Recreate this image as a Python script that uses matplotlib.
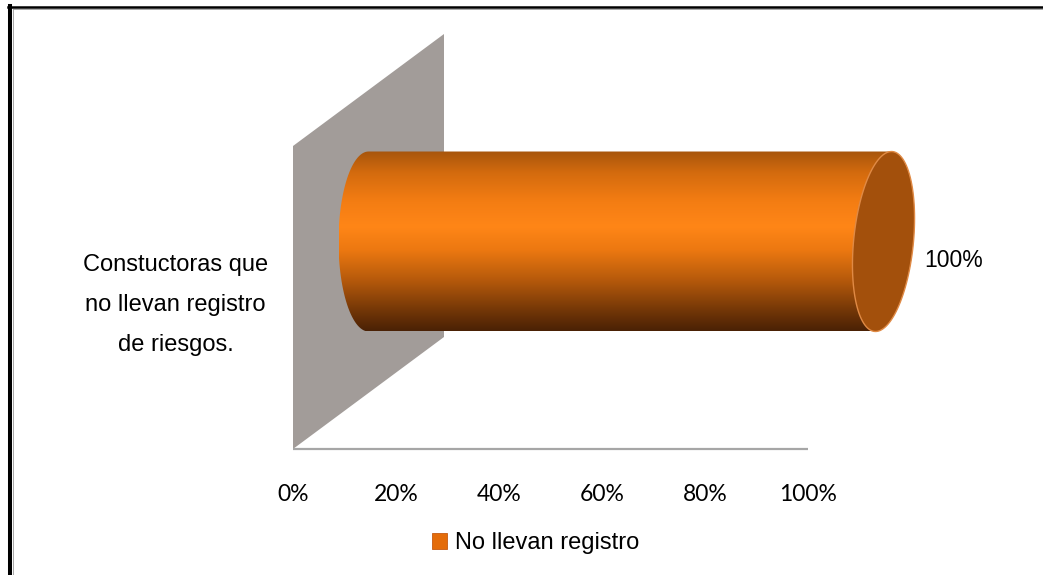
import numpy as np
import matplotlib
matplotlib.use('Agg')
import matplotlib.pyplot as plt
import matplotlib.transforms as mtransforms
from matplotlib.colors import LinearSegmentedColormap
from matplotlib.patches import Polygon, Patch
from matplotlib.lines import Line2D

# data
categories = ['Constuctoras que\nno llevan registro\nde riesgos.']
values = [1.0]
series_name = 'No llevan registro'
x_ticks = [0, 0.2, 0.4, 0.6, 0.8, 1.0]
x_tick_labels = ['0%', '20%', '40%', '60%', '80%', '100%']
value_labels = ['100%']

plt.rcParams['font.family'] = ['Liberation Sans', 'DejaVu Sans']

W, H = 1043, 575
fig = plt.figure(figsize=(W / 100, H / 100), dpi=100)
fig.patch.set_facecolor('white')

# front plane of the 3D box, in pixels (0..100% spans unit_px)
unit_px = 515
x_max = 1.3  # extra room on the right for the projected bar and label
ax_l, ax_t, ax_h = 293, 146, 303
ax_w = unit_px * x_max
ax = fig.add_axes([ax_l / W, 1 - (ax_t + ax_h) / H, ax_w / W, ax_h / H])
ax.patch.set_alpha(0)
for s in ax.spines.values():
    s.set_visible(False)

# depth of the box (px) in data units
dx = 151 / unit_px
dy = 112 / ax_h

# back wall
wall = Polygon([(0, -0.5), (0, 0.5), (dx, 0.5 + dy), (dx, -0.5 + dy)],
               closed=True, facecolor='#a29c99', edgecolor='none',
               clip_on=False, zorder=1)
ax.add_patch(wall)
# floor edge
ax.plot([0, 1], [-0.5, -0.5], color='#a6a6a6', lw=1.6, clip_on=False,
        zorder=1, solid_capstyle='butt')

# cylinder shading (bottom -> top)
cyl_cmap = LinearSegmentedColormap.from_list('cyl', [
    (0.0, '#4a2105'), (0.1, '#6e3407'), (0.28, '#b5590b'),
    (0.45, '#ec7811'), (0.58, '#ff8617'), (0.72, '#f47d13'),
    (0.88, '#d46b0e'), (1.0, '#a7550c')])

bar_h = 0.594
cap_a = 30 / unit_px
shear = 8 / unit_px
t_half = np.linspace(np.pi / 2, 3 * np.pi / 2, 60)
t_full = np.linspace(0, 2 * np.pi, 120)

for i, (cat, v) in enumerate(zip(categories, values)):
    cy = i + dy / 2
    b = bar_h / 2
    x0 = dx / 2
    x1 = v + dx / 2
    xs = list(x0 + cap_a * np.cos(t_half)) + [x1 - shear, x1 + shear]
    ys = list(cy + b * np.sin(t_half)) + [cy - b, cy + b]
    body = Polygon(np.column_stack([xs, ys]), closed=True, facecolor='none',
                   edgecolor='none', transform=ax.transData)
    grad = np.linspace(0, 1, 256).reshape(-1, 1)
    im = ax.imshow(grad, extent=(x0 - cap_a, x1 + shear, cy - b, cy + b),
                   origin='lower', aspect='auto', cmap=cyl_cmap, zorder=2,
                   interpolation='bilinear')
    im.set_clip_path(body)

    cap = Polygon(np.column_stack([x1 + cap_a * np.cos(t_full) + shear * np.sin(t_full),
                                   cy + b * np.sin(t_full)]),
                  closed=True, facecolor='#a3500c', edgecolor='#e08a45',
                  lw=1.0, clip_on=False, zorder=3)
    ax.add_patch(cap)

    ax.annotate(value_labels[i], xy=(x1 + cap_a, cy), xycoords='data',
                xytext=(8, -13.5), textcoords='offset points',
                ha='left', va='center', fontsize=16.5, color='black')

ax.set_xlim(0, x_max)
ax.set_ylim(-0.5, 0.5)

ax.set_yticks(range(len(categories)))
ax.set_yticklabels(categories, fontsize=17, multialignment='center',
                   linespacing=2.05)
ax.set_xticks(x_ticks)
ax.set_xticklabels(x_tick_labels, fontsize=16.5, family='Lato')
ax.tick_params(axis='both', length=0)
ax.tick_params(axis='y', pad=18)
ax.tick_params(axis='x', pad=25)
# nudge the category label up a little
lift = mtransforms.ScaledTranslation(0, 4 / 100, fig.dpi_scale_trans)
for lab in ax.get_yticklabels():
    lab.set_transform(lab.get_transform() + lift)

fig.legend(handles=[Patch(facecolor='#e46c0a', edgecolor='#c55a11', lw=0.6)],
           labels=[series_name], loc='center left',
           bbox_to_anchor=(432 / W, 1 - 543 / H), frameon=False,
           borderpad=0, borderaxespad=0, handlelength=0.64,
           handleheight=0.64, handletextpad=0.35, prop={'size': 17})

# outer frame (left and top edges)
fig.add_artist(Line2D([10.3 / W, 10.3 / W], [0, 1 - 6 / H], color='black',
                      lw=2.9, transform=fig.transFigure))
fig.add_artist(Line2D([8.3 / W, 1], [1 - 7 / H, 1 - 7 / H], color='black',
                      lw=1.8, transform=fig.transFigure))
fig.add_artist(Line2D([12.8 / W, 12.8 / W], [0, 1 - 8.5 / H], color='#9a9a9a',
                      lw=0.6, transform=fig.transFigure))
fig.add_artist(Line2D([12.5 / W, 1], [1 - 8.6 / H, 1 - 8.6 / H], color='#9a9a9a',
                      lw=0.6, transform=fig.transFigure))

fig.savefig('out.png', dpi=100)
